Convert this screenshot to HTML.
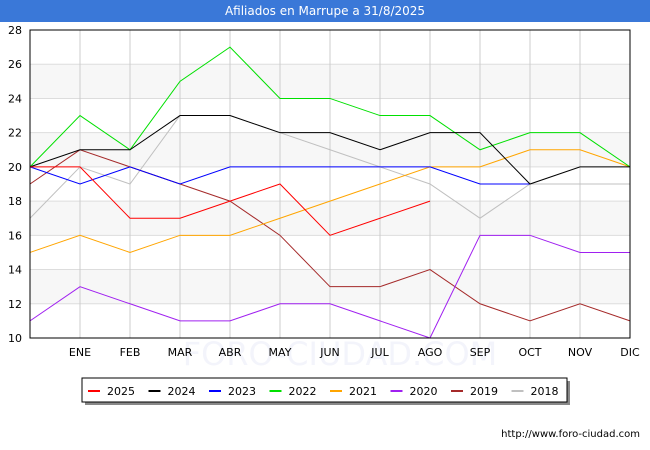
<!DOCTYPE html>
<html><head><meta charset="utf-8"><style>
body{margin:0;width:650px;height:450px;background:#fff;font-family:"DejaVu Sans","Liberation Sans",sans-serif;overflow:hidden}
</style></head><body>
<div style="position:absolute;left:0;top:0;width:650px;height:22px;background:#3a78d8;color:#fff;font-size:12px;text-align:center;line-height:22px">Afiliados en Marrupe a 31/8/2025</div>
<svg id="c" width="650" height="450" style="position:absolute;left:0;top:0"></svg>
<script>
const months=["","ENE","FEB","MAR","ABR","MAY","JUN","JUL","AGO","SEP","OCT","NOV","DIC"];
const yTicks=[10,12,14,16,18,20,22,24,26,28];
const seriesNames=["2025","2024","2023","2022","2021","2020","2019","2018"];
const colors=["#ff0000","#000000","#0000ff","#00e000","#ffa500","#a020f0","#a52a2a","#c0c0c0"];
const s2025=[20,20,17,17,18,19,16,17,18];
const s2024=[20,21,21,23,23,22,22,21,22,22,19,20,20];
const s2023=[20,19,20,19,20,20,20,20,20,19,19];
const s2022=[20,23,21,25,27,24,24,23,23,21,22,22,20];
const s2021=[15,16,15,16,16,17,18,19,20,20,21,21,20];
const s2020=[11,13,12,11,11,12,12,11,10,16,16,15,15];
const s2019=[19,21,20,19,18,16,13,13,14,12,11,12,11];
const s2018=[17,20,19,23,23,22,21,20,19,17,19,19,19];
const data=[s2025,s2024,s2023,s2022,s2021,s2020,s2019,s2018];
const L=30,R=630,T=30,B=338,ymin=10,ymax=28;
const X=i=>L+i*(R-L)/12, Y=v=>B-(v-ymin)*(B-T)/(ymax-ymin);
const svg=document.getElementById('c'),NS="http://www.w3.org/2000/svg";
function mk(t,a,p){const e=document.createElementNS(NS,t);for(const k in a)e.setAttribute(k,a[k]);(p||svg).appendChild(e);return e;}
for(let i=0;i<yTicks.length-1;i++){if(i%2==1){const r=mk('rect',{x:L,y:Y(yTicks[i+1]),width:R-L,height:Y(yTicks[i])-Y(yTicks[i+1]),fill:'#f7f7f7'});}}
const wm=mk('text',{x:340,y:365,'text-anchor':'middle','font-size':32,fill:'#f3f4fb'});wm.textContent="FORO-CIUDAD.COM";
yTicks.forEach(v=>{const l=mk('line',{x1:L,x2:R,y1:Y(v),y2:Y(v),stroke:'#ddd'});
const t=mk('text',{x:L-8,y:Y(v)+4,'text-anchor':'end','font-size':11,fill:'#000'});t.textContent=v;});
months.forEach((m,i)=>{if(i>0){const l=mk('line',{x1:X(i),x2:X(i),y1:T,y2:B,stroke:'#ccc'});
const t=mk('text',{x:X(i),y:B+18,'text-anchor':'middle','font-size':11,fill:'#000'});t.textContent=m;}});
for(let k=data.length-1;k>=0;k--){const p=mk('polyline',{points:data[k].map((v,i)=>X(i)+','+Y(v)).join(' '),fill:'none',stroke:colors[k],'stroke-width':1});}
const fr=mk('rect',{x:L,y:T,width:R-L,height:B-T,fill:'none',stroke:'#000'});
const lg=mk('g',{});
mk('rect',{x:85,y:381,width:485,height:24,fill:'#888'},lg);
mk('rect',{x:82,y:378,width:485,height:24,fill:'#fff',stroke:'#000'},lg);
seriesNames.forEach((n,k)=>{const x=88+k*60.5;const g=mk('g',{},lg);
mk('line',{x1:x,x2:x+12,y1:391,y2:391,stroke:colors[k],'stroke-width':2},g);
const t=mk('text',{x:x+19,y:395,'font-size':11,fill:'#000'},g);t.textContent=n;});
const u=mk('text',{x:640,y:437,'text-anchor':'end','font-size':10,fill:'#000'});u.textContent="http://www.foro-ciudad.com";
</script></body></html>
